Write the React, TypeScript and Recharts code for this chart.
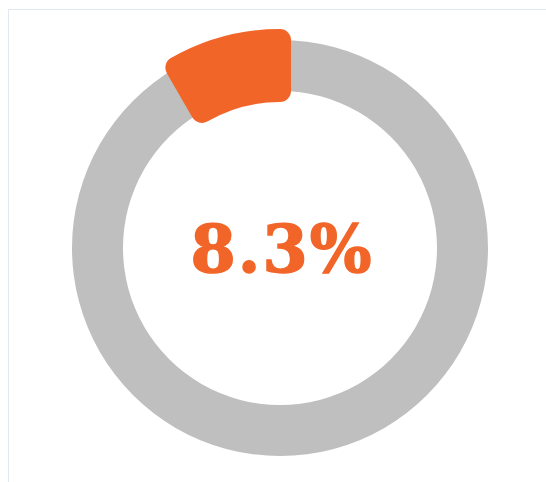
import { PieChart, Pie, Cell, Label } from "recharts";

const RING = [{ name: "total", value: 100 }];
const SHARE = [
  { name: "share", value: 8.3 },
  { name: "rest", value: 91.7 },
];
const LABEL_TEXT = "8.3%";

const ORANGE = "#F26529";
const GRAY = "#BFBFBF";
const CX = 280;
const CY = 248;

export default function App() {
  return (
    <div style={{ position: "absolute", left: 0, top: 0, width: 546, height: 482 }}>
      <div
        style={{
          position: "absolute",
          left: 8,
          top: 9,
          width: 546,
          height: 482,
          borderTop: "1px solid #e3e7ef",
          borderLeft: "1px solid #e3e7ef",
        }}
      />
      <div style={{ position: "absolute", left: 0, top: 0 }}>
        <PieChart width={546} height={482} margin={{ top: 0, right: 0, bottom: 0, left: 0 }}>
          <Pie
            data={RING}
            dataKey="value"
            cx={CX}
            cy={CY}
            innerRadius={157}
            outerRadius={208}
            startAngle={90}
            endAngle={-270}
            stroke="none"
            isAnimationActive={false}
          >
            <Cell fill={GRAY} />
            <Label
              position="center"
              content={() => (
                <text
                  x={CX + 2}
                  y={CY + 24}
                  textAnchor="middle"
                  fill={ORANGE}
                  stroke={ORANGE}
                  strokeWidth={1.5}
                  fontFamily="'DejaVu Serif', serif"
                  fontWeight={900}
                  fontSize={65}
                  letterSpacing={2}
                >
                  {LABEL_TEXT}
                </text>
              )}
            />
          </Pie>
          <Pie
            data={SHARE}
            dataKey="value"
            cx={CX}
            cy={CY}
            innerRadius={157}
            outerRadius={208}
            startAngle={90}
            endAngle={450}
            isAnimationActive={false}
          >
            <Cell fill={ORANGE} stroke={ORANGE} strokeWidth={22} strokeLinejoin="round" />
            <Cell fill="transparent" stroke="none" />
          </Pie>
        </PieChart>
      </div>
    </div>
  );
}
